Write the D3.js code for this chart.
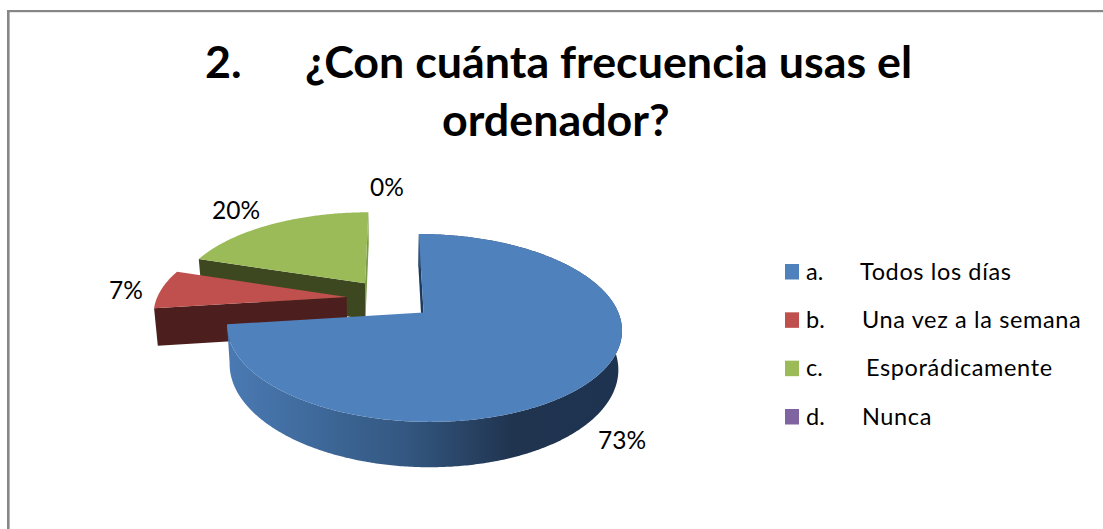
<!DOCTYPE html>
<html><head><meta charset="utf-8">
<script src="https://cdn.jsdelivr.net/npm/d3@7/dist/d3.min.js"></script>
<style>html,body{margin:0;padding:0;background:#fff;overflow:hidden}svg{display:block}text{font-family:Lato,"Open Sans",sans-serif;fill:#000}</style>
</head><body><svg id="c" width="1103" height="529"></svg>
<script>
const titleNumber = "2.";
const titleLines = ["¿Con cuánta frecuencia usas el", "ordenador?"];
const letters = ["a.", "b.", "c.", "d."];
const categories = ["Todos los días", "Una vez a la semana", "Esporádicamente", "Nunca"];
const values = [73, 7, 20, 0];
const labels = ["73%", "7%", "20%", "0%"];
const topColors = ["#4f81bd", "#c0504d", "#9bbb59", "#8064a2"];
const wallColors = ["#1c3a5e", "#4d1e1e", "#3e4820", "#40315a"];

const svg = d3.select("#c");
const W = 1103;

// frame: top and left rules only
svg.append("rect").attr("x",7).attr("y",10).attr("width",W-7).attr("height",2.2).attr("fill","#868686");
svg.append("rect").attr("x",7).attr("y",10).attr("width",2.6).attr("height",519).attr("fill","#868686");

// title
const t = svg.append("text").attr("font-weight",700).attr("font-size",44.8);
t.append("tspan").attr("x",205).attr("y",77.5).text(titleNumber);
t.append("tspan").attr("x",305).attr("y",77.5).text(titleLines[0]);
t.append("tspan").attr("x",442).attr("y",135.5).text(titleLines[1]);

// 3-D exploded pie projection
const pie = d3.pie().sort(null).value(d=>d).startAngle(0).endAngle(2*Math.PI);
const arcs = pie(values);
const ox = 390, oy = 299, kTop = 190, kBottom = 187, a = 87, b = 0.16, depth = 37, explode = 0.23;
function project(dx, dz, top){
  const D = 1 + b*dz;
  return [ox + (top?kTop:kBottom)*dx/D, oy - a*dz/D + (top?0:depth/D)];
}
function pt(d, theta, r, top){
  const m = (d.startAngle+d.endAngle)/2;
  return project(explode*Math.sin(m)+r*Math.sin(theta), explode*Math.cos(m)+r*Math.cos(theta), top);
}
function rim(d, from, to, top){
  const n = Math.max(2, Math.ceil(Math.abs(to-from)/0.01));
  return d3.range(n+1).map(i=>pt(d, from+(to-from)*i/n, 1, top));
}
const poly = ps => "M"+ps.map(p=>p[0].toFixed(2)+","+p[1].toFixed(2)).join("L")+"Z";

const defs = svg.append("defs");
const g = defs.append("linearGradient").attr("id","blueSide").attr("gradientUnits","userSpaceOnUse")
  .attr("x1",232).attr("x2",622).attr("y1",0).attr("y2",0);
[[0,"#4a79b2"],[0.2,"#3f6a9c"],[0.45,"#335780"],[0.72,"#20344f"],[1,"#1d3350"]].forEach(s=>g.append("stop").attr("offset",s[0]).attr("stop-color",s[1]));

const pieG = svg.append("g");
function slice(i, opts){
  const d = arcs[i];
  (opts.walls||[]).forEach(w=>{
    const th = w==="start"?d.startAngle:d.endAngle;
    pieG.append("path").attr("d",poly([pt(d,th,1,true),pt(d,th,0,true),pt(d,th,0,false),pt(d,th,1,false)]))
      .attr("fill",opts.wallFill&&opts.wallFill[w]||wallColors[i]);
  });
  if(opts.side){
    const r1 = rim(d,d.startAngle,d.endAngle,true), r2 = rim(d,d.startAngle,d.endAngle,false).reverse();
    pieG.append("path").attr("d",poly(r1.concat(r2))).attr("fill",opts.side);
  }
  pieG.append("path").attr("d",poly([pt(d,0,0,true)].concat(rim(d,d.startAngle,d.endAngle,true)))).attr("fill",topColors[i]);
}
slice(2,{walls:["end","start"],wallFill:{end:"#7d9a4a"}});
slice(1,{walls:["start"]});
slice(0,{walls:["start"],side:"url(#blueSide)"});

// data labels
const labelPos = [[622,440],[126,290],[236,210],[387,187]];
svg.append("g").selectAll("text").data(labels).join("text")
  .attr("x",(d,i)=>labelPos[i][0]).attr("y",(d,i)=>labelPos[i][1]+8.5)
  .attr("text-anchor","middle").attr("font-size",24.5).text(d=>d);

// legend
const rowY = d3.scalePoint().domain(d3.range(4)).range([272,417]);
const nameX = [860,862,866,862];
const lg = svg.append("g").selectAll("g").data(categories).join("g");
lg.append("rect").attr("x",785).attr("y",(d,i)=>rowY(i)-8).attr("width",14).attr("height",15.5).attr("fill",(d,i)=>topColors[i]);
lg.append("text").attr("x",806).attr("y",(d,i)=>rowY(i)+7.5).attr("font-size",23.5).text((d,i)=>letters[i]);
lg.append("text").attr("x",(d,i)=>nameX[i]).attr("y",(d,i)=>rowY(i)+7.5).attr("font-size",23.5).attr("letter-spacing",0.63).text(d=>d);
</script></body></html>
